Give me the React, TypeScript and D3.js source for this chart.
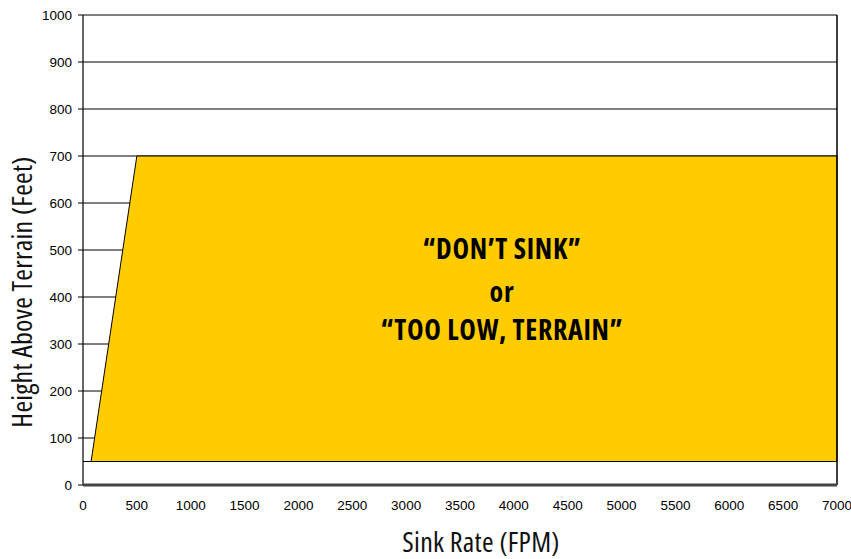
import React from "react";
import * as d3 from "d3";

const yTicks = [0, 100, 200, 300, 400, 500, 600, 700, 800, 900, 1000];
const xTicks = [0, 500, 1000, 1500, 2000, 2500, 3000, 3500, 4000, 4500, 5000, 5500, 6000, 6500, 7000];
// envelope boundary (sink rate FPM, height ft)
const envX = [75, 500, 7000, 7000];
const envY = [50, 700, 700, 50];
const floorX = [0, 7000];
const floorY = [50, 50];
const labelLines = ["\u201CDON\u2019T SINK\u201D", "or", "\u201CTOO LOW, TERRAIN\u201D"];
const labelY = [481, 389, 308];
const labelX = 3890;

export default function App() {
  const W = 851, H = 559;
  const L = 83, R = 837, T = 15, B = 485;
  const x = d3.scaleLinear().domain([0, 7000]).range([L, R]);
  const y = d3.scaleLinear().domain([0, 1000]).range([B, T]);
  const env = envX.map((v, i) => [x(v), y(envY[i])] as [number, number]);
  const poly = d3.line()(env.concat([env[0]]))!;
  const floor = d3.line()(floorX.map((v, i) => [x(v), y(floorY[i])] as [number, number]))!;
  const tickFont = "'Liberation Sans', Arial, sans-serif";
  return (
    <svg width={W} height={H} style={{ position: "absolute", left: 0, top: 0 }}>
      <rect width={W} height={H} fill="#fff" />
      {yTicks.filter((t) => t > 0).map((t) => (
        <line key={t} x1={L} x2={R} y1={y(t)} y2={y(t)} stroke="#000" strokeWidth={1} />
      ))}
      <path d={poly} fill="#FFCC00" stroke="#000" strokeWidth={1} />
      <path d={floor} fill="none" stroke="#000" strokeWidth={1.2} />
      <line x1={R} x2={R} y1={T} y2={B} stroke="#000" strokeWidth={1.5} />
      <line x1={L} x2={L} y1={T} y2={B} stroke="#000" strokeWidth={1.2} />
      <line x1={L} x2={R} y1={B} y2={B} stroke="#444" strokeWidth={3} />
      {yTicks.map((t) => (
        <g key={t}>
          <line x1={L - 5} x2={L} y1={y(t)} y2={y(t)} stroke="#000" strokeWidth={1} />
          <text x={L - 11} y={y(t)} dy="0.35em" textAnchor="end" fontFamily={tickFont} fontSize={13.5} fill="#000">{t}</text>
        </g>
      ))}
      {xTicks.map((t) => (
        <text key={t} x={x(t)} y={B + 25} textAnchor="middle" fontFamily={tickFont} fontSize={13.5} fill="#000">{t}</text>
      ))}
      {labelLines.map((s, i) => (
        <text key={i} x={x(labelX)} y={y(labelY[i])} textAnchor="middle" fontFamily="Open Sans" fontWeight="bold" fontSize={28} letterSpacing={0.7} fill="#000" style={{ fontStretch: "condensed" }}>{s}</text>
      ))}
      <text x={481} y={552} textAnchor="middle" fontFamily="Open Sans" fontSize={28} letterSpacing={0.3} fill="#111" style={{ fontStretch: "condensed" }}>Sink Rate (FPM)</text>
      <text transform={`translate(32, 292) rotate(-90)`} textAnchor="middle" fontFamily="Open Sans" fontSize={28} letterSpacing={0.3} fill="#111" style={{ fontStretch: "condensed" }}>Height Above Terrain (Feet)</text>
    </svg>
  );
}
